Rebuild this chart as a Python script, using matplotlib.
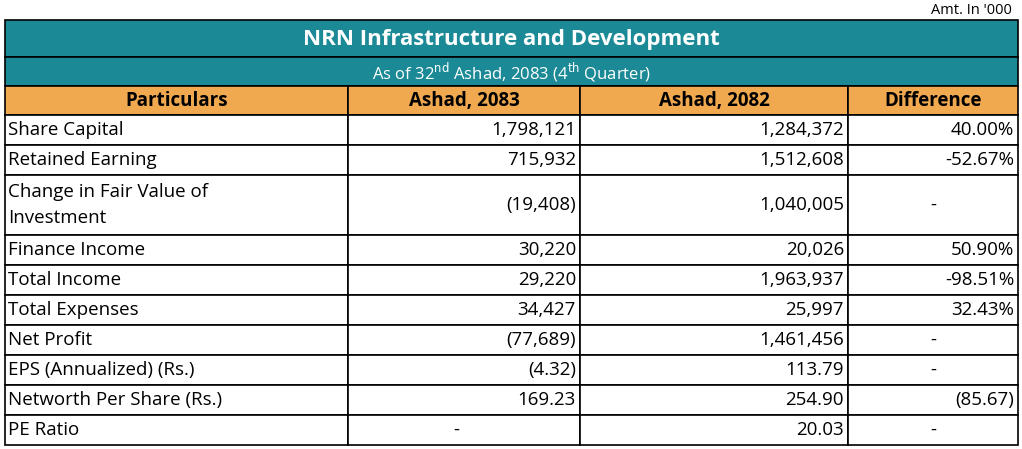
import matplotlib
matplotlib.use("Agg")
import matplotlib.pyplot as plt
from matplotlib.patches import Rectangle

title = "NRN Infrastructure and Development"
subtitle = r"As of 32$^{\rm nd}$ Ashad, 2083 (4$^{\rm th}$ Quarter)"
headers = ["Particulars", "Ashad, 2083", "Ashad, 2082", "Difference"]
particulars = ["Share Capital", "Retained Earning", "Change in Fair Value of\nInvestment",
               "Finance Income", "Total Income", "Total Expenses", "Net Profit",
               "EPS (Annualized) (Rs.)", "Networth Per Share (Rs.)", "PE Ratio"]
ashad_2083 = ["1,798,121", "715,932", "(19,408)", "30,220", "29,220", "34,427",
              "(77,689)", "(4.32)", "169.23", "-"]
ashad_2082 = ["1,284,372", "1,512,608", "1,040,005", "20,026", "1,963,937", "25,997",
              "1,461,456", "113.79", "254.90", "20.03"]
difference = ["40.00%", "-52.67%", "-", "50.90%", "-98.51%", "32.43%", "-", "-", "(85.67)", "-"]

W, H = 1022, 449
fig = plt.figure(figsize=(W/100, H/100), dpi=100)
ax = fig.add_axes([0, 0, 1, 1])
ax.set_xlim(0, W); ax.set_ylim(H, 0); ax.axis("off")
plt.rcParams['font.family'] = ['Open Sans', 'DejaVu Sans']

teal = "#1b8a96"; orange = "#f0a94f"
cols = [5, 348, 580, 848, 1018]
fs = 13.5

ax.text(1012, 10, "Amt. In '000", ha="right", va="center", fontsize=10.5)

def rect(x0, y0, x1, y1, fc):
    ax.add_patch(Rectangle((x0, y0), x1-x0, y1-y0, facecolor=fc, edgecolor="black", lw=1.2))

rect(cols[0], 20, cols[-1], 57, teal)
ax.text((cols[0]+cols[-1])/2, 39, title, ha="center", va="center", color="white", fontsize=16, fontweight="bold")
rect(cols[0], 57, cols[-1], 86, teal)
ax.text((cols[0]+cols[-1])/2, 72, subtitle, ha="center", va="center", color="white", fontsize=12)
for i, h in enumerate(headers):
    rect(cols[i], 86, cols[i+1], 115, orange)
    ax.text((cols[i]+cols[i+1])/2, 101, h, ha="center", va="center", fontsize=fs, fontweight="bold")

y = 115
for i, p in enumerate(particulars):
    rh = 60 if "\n" in p else 30
    for c in range(4):
        rect(cols[c], y, cols[c+1], y+rh, "white")
    yc = y + rh/2
    ax.text(cols[0]+3, yc, p, ha="left", va="center", fontsize=fs, linespacing=1.6)
    for c, v in zip([1, 2, 3], [ashad_2083[i], ashad_2082[i], difference[i]]):
        if v == "-":
            xx = (cols[c]+cols[c+1])/2 if c == 3 else cols[c] + 108
            ax.text(xx, yc, v, ha="center", va="center", fontsize=fs)
        else:
            ax.text(cols[c+1]-4, yc, v, ha="right", va="center", fontsize=fs)
    y += rh

fig.savefig("out.png", dpi=100)
